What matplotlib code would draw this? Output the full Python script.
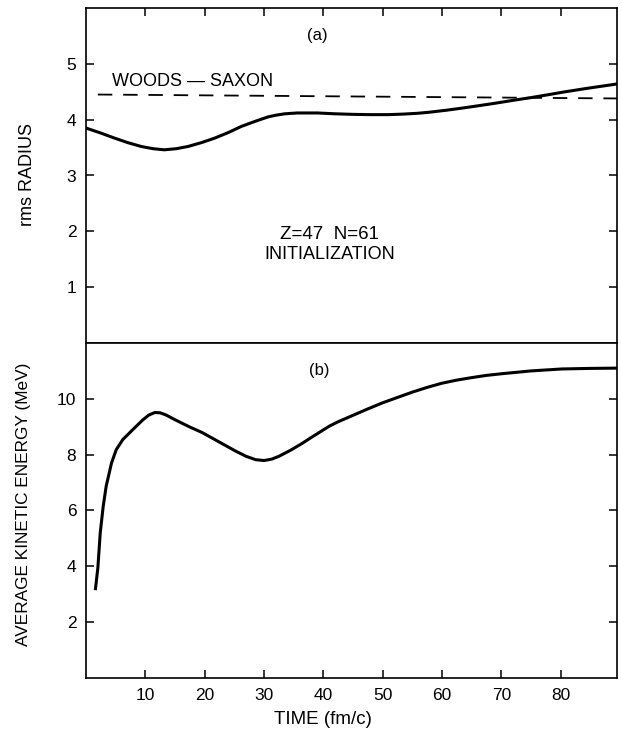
import numpy as np
import matplotlib.pyplot as plt

plt.rcParams['font.family'] = ['Liberation Sans', 'DejaVu Sans']

# (a) rms radius vs time
t_rad = [0, 2.5, 4.8, 7, 9.3, 11.3, 13.2, 15.2, 17.2, 19.5, 21.7, 24, 26.2, 28.5,
         30.7, 32, 33.5, 35.6, 39, 42, 45, 48, 51, 53.5, 56, 58, 60.8, 63.6, 66.5,
         69.3, 72.2, 75, 77.8, 80.5, 84.7, 88.9, 89.5]
rms_radius = [3.85, 3.76, 3.67, 3.59, 3.52, 3.48, 3.46, 3.48, 3.52, 3.59, 3.67, 3.77,
              3.88, 3.97, 4.05, 4.08, 4.105, 4.12, 4.12, 4.105, 4.095, 4.09, 4.09,
              4.10, 4.115, 4.135, 4.17, 4.21, 4.255, 4.30, 4.35, 4.395, 4.445, 4.495,
              4.565, 4.63, 4.64]

# Woods-Saxon reference radius
t_ws = [2, 89.5]
ws_radius = [4.45, 4.38]

# (b) average kinetic energy vs time
t_ke = [1.6, 2.0, 2.4, 2.9, 3.4, 4.3, 5.1, 6.2, 7.9, 9.6, 10.6, 11.6, 12.5, 13.5,
        15.2, 17.5, 19.6, 22.4, 25.2, 27, 28.6, 30, 31.3, 32.5, 34.5, 36.4, 38,
        39.8, 41, 42.4, 44.9, 47.4, 49.9, 52.5, 55, 57.5, 60, 62.5, 65, 67.5,
        70.1, 75, 80.2, 85, 89.5]
kin_energy = [3.2, 3.95, 5.2, 6.15, 6.87, 7.7, 8.18, 8.54, 8.9, 9.25, 9.42, 9.51,
              9.5, 9.42, 9.23, 8.99, 8.79, 8.46, 8.13, 7.94, 7.82, 7.79, 7.84, 7.94,
              8.16, 8.4, 8.62, 8.86, 9.02, 9.17, 9.4, 9.63, 9.85, 10.05, 10.24,
              10.41, 10.56, 10.67, 10.76, 10.84, 10.9, 11.0, 11.07, 11.09, 11.1]

x_ticks = [10, 20, 30, 40, 50, 60, 70, 80]

W, H = 622, 736
fig = plt.figure(figsize=(W / 100, H / 100), dpi=100)

left, right = 86 / W, 617 / W
mid = 1 - 343 / H
ax1 = fig.add_axes([left, mid, right - left, (1 - 8 / H) - mid])
ax2 = fig.add_axes([left, 1 - 678 / H, right - left, mid - (1 - 678 / H)])

for ax in (ax1, ax2):
    ax.set_xlim(0, 89.5)
    for s in ax.spines.values():
        s.set_linewidth(1.2)
    ax.tick_params(direction='in', length=6, width=1.1, labelsize=12.5, pad=7)

# top panel
ax1.plot(t_rad, rms_radius, color='black', lw=2.2)
ax1.plot(t_ws, ws_radius, color='black', lw=1.3, dashes=(8, 6))
ax1.set_ylim(0, 6)
ax1.set_yticks([1, 2, 3, 4, 5])
ax1.set_xticks(x_ticks)
ax1.tick_params(axis='x', top=True, bottom=False, labelbottom=False)
ax1.tick_params(axis='y', right=True)
ax1.text(18.0, 4.69, 'WOODS — SAXON', fontsize=13, ha='center', va='center')
ax1.text(39, 5.5, '(a)', fontsize=12, ha='center', va='center')
ax1.text(41, 1.94, 'Z=47  N=61', fontsize=13.5, ha='center', va='center')
ax1.text(41, 1.58, 'INITIALIZATION', fontsize=13, ha='center', va='center')

# bottom panel
ax2.plot(t_ke, kin_energy, color='black', lw=2.2)
ax2.set_ylim(0, 12)
ax2.set_yticks([2, 4, 6, 8, 10])
ax2.set_xticks(x_ticks)
ax2.tick_params(axis='y', right=True)
ax2.text(39.3, 11.0, '(b)', fontsize=12, ha='center', va='center')

fig.text(27 / W, 1 - 174 / H, 'rms RADIUS', rotation=90, fontsize=13,
         ha='center', va='center')
fig.text(24 / W, 1 - 504 / H, 'AVERAGE KINETIC ENERGY (MeV)', rotation=90,
         fontsize=12.4, ha='center', va='center')
fig.text(323 / W, 1 - 720 / H, 'TIME (fm/c)', fontsize=13.5, ha='center', va='center')

fig.savefig('out.png', dpi=100)
